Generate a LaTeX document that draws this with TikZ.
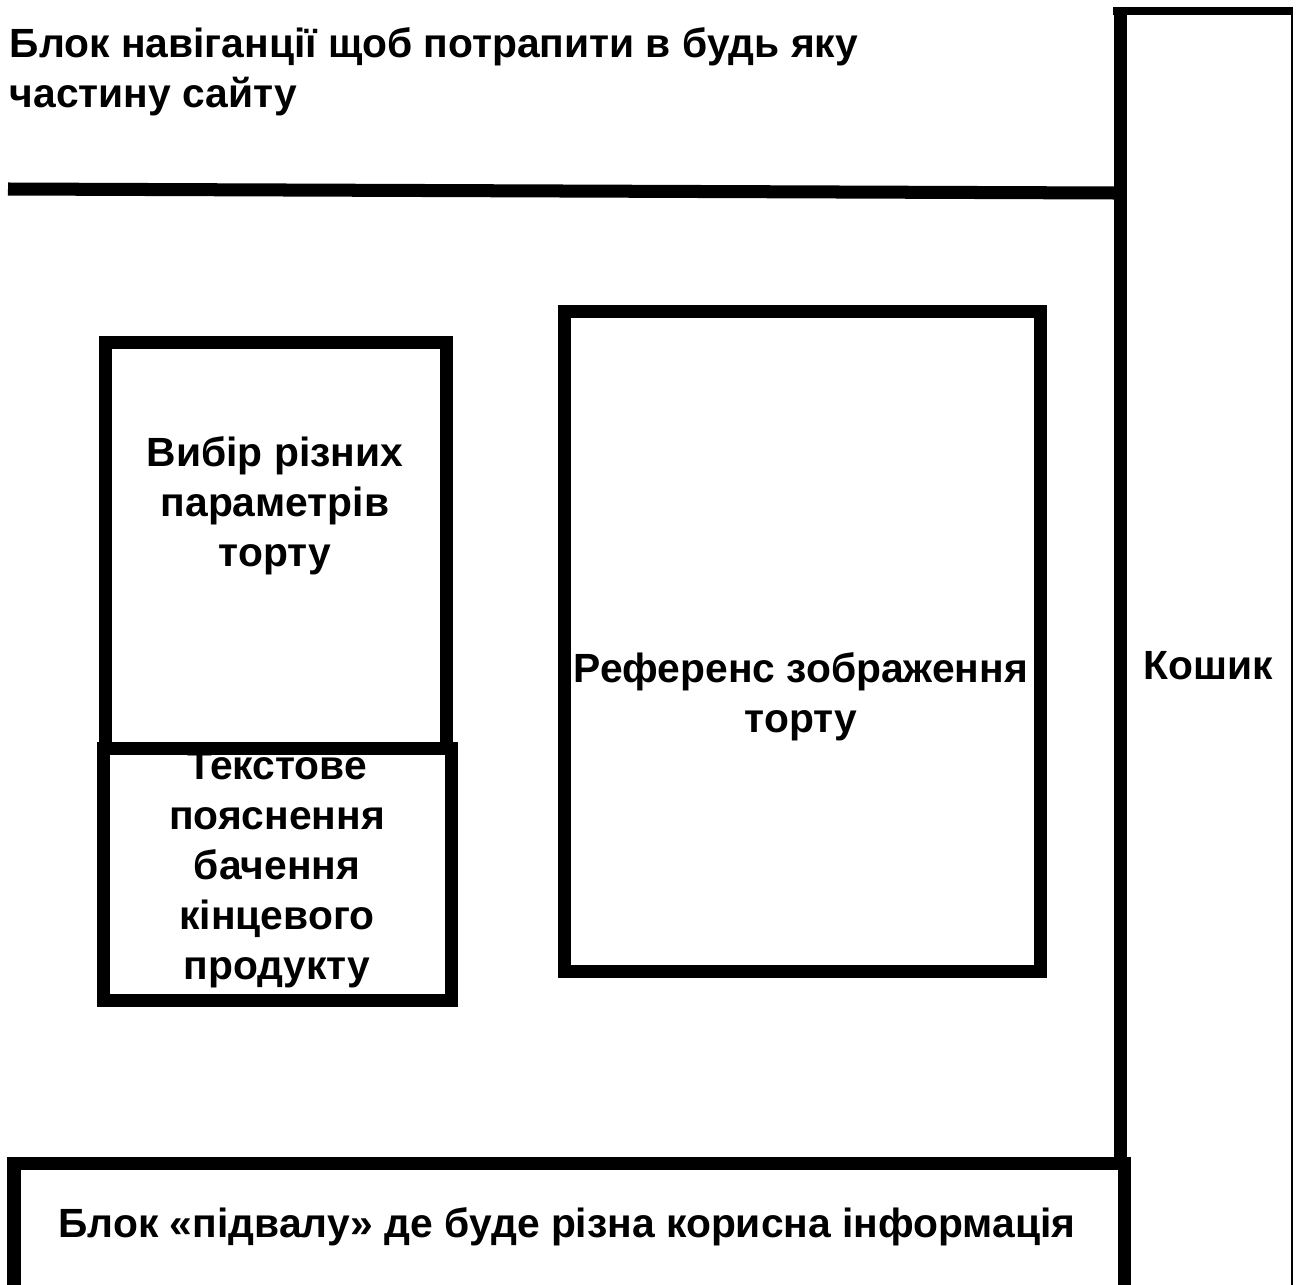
\documentclass[tikz,border=0pt]{standalone}
\usepackage{fontspec}
\setmainfont{Liberation Sans}
\begin{document}
\begin{tikzpicture}[x=0.01cm,y=-0.01cm,
  frame/.style={draw=black,line width=3.7pt,rectangle,inner sep=0pt},
  thickline/.style={draw=black,line width=3.7pt},
  lbl/.style={font=\bfseries\fontsize{11.6pt}{14.2pt}\selectfont,align=center,inner sep=0pt}]
\useasboundingbox[fill=white] (0,0) rectangle (1297,1285);
\begin{scope}
\clip (0,0) rectangle (1297,1285);
% boxes
\node[frame,minimum width=3.40cm,minimum height=4.055cm] (params) at (276,545.75) {};
\node[frame,minimum width=3.48cm,minimum height=2.52cm] (explain) at (277.5,874.5) {};
\node[frame,minimum width=4.76cm,minimum height=6.60cm] (ref) at (802.5,641.5) {};
% cart column
\coordinate (cartBL) at (1120,1163);
\coordinate (cartTL) at (1120,7);
\coordinate (cartTLh) at (1113,11);
\coordinate (cartTR) at (1293,11);
\coordinate (cartBR) at (1292,1285);
\draw[thickline] (cartBL) -- (cartTL);
\draw[draw=black,line width=2.3pt] (cartTLh) -- (cartTR);
\draw[draw=black,line width=0.6pt] (1292,11) -- (cartBR);
% nav line
\coordinate (navL) at (8,189);
\coordinate (navR) at (1114,193);
\draw[thickline] (navL) -- (navR);
% footer
\coordinate (fBL) at (14,1300);
\coordinate (fTL) at (14,1163.5);
\coordinate (fTR) at (1124,1163.5);
\coordinate (fBR) at (1124,1300);
\draw[thickline] (fBL) -- (fTL) -- (fTR) -- (fBR);
\end{scope}
% texts
\node[lbl,align=left,anchor=west] (navtext) at (9,72) {Блок навіганції щоб потрапити в будь яку\\частину сайту};
\node[lbl] (paramstext) at (275,506) {Вибір різних\\параметрів\\торту};
\node[lbl] (explaintext) at (277,870) {Текстове\\пояснення\\бачення\\кінцевого\\продукту};
\node[lbl] (reftext) at (801,697) {Референс зображення\\торту};
\node[lbl] (carttext) at (1208,666) {Кошик};
\node[lbl] (foottext) at (567,1227) {Блок «підвалу» де буде різна корисна інформація};
\end{tikzpicture}
\end{document}
